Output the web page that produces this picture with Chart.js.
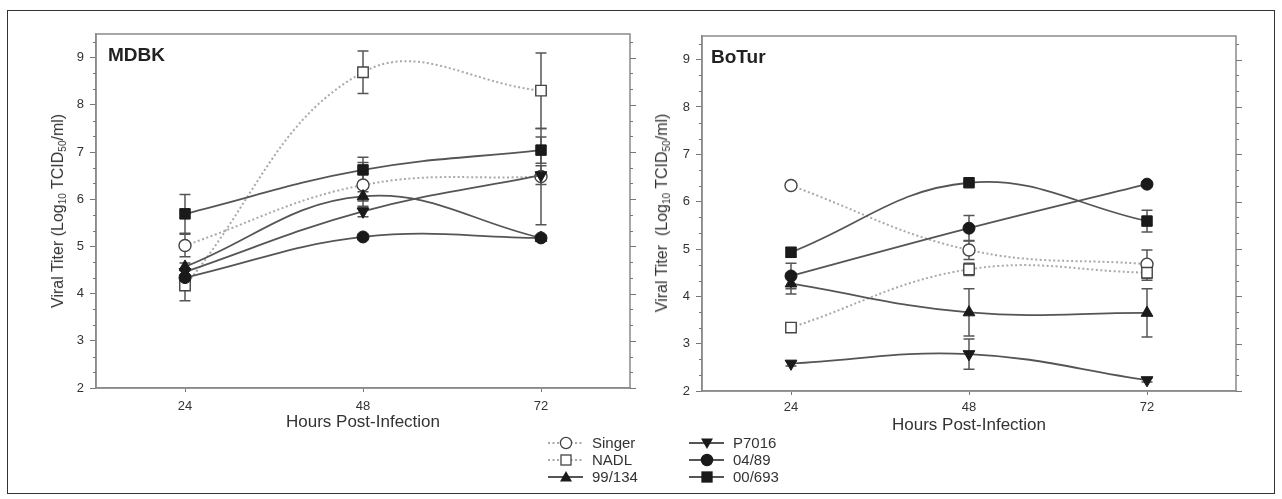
<!DOCTYPE html>
<html><head><meta charset="utf-8">
<script src="https://cdn.jsdelivr.net/npm/chart.js@4.4.0/dist/chart.umd.min.js"></script>
<style>
html,body{margin:0;padding:0;background:#fff;}
body{width:1282px;height:499px;position:relative;overflow:hidden;font-family:"Liberation Sans",Arial,sans-serif;color:#333;}
#frame{position:absolute;left:7px;top:10px;width:1268px;height:484px;border:1.5px solid #333;box-sizing:border-box;}
canvas{position:absolute;top:0;}
.ytitle{position:absolute;transform:translate(-50%,-50%) rotate(-90deg);white-space:nowrap;font-size:16px;color:#333;}
.ytitle sub{font-size:10px;vertical-align:-3px;line-height:0;}
.ptitle{position:absolute;font-weight:bold;font-size:19px;line-height:1;color:#222;}
.lg{position:absolute;height:16px;}
.lg svg{position:absolute;top:0;}
.lg span{position:absolute;top:0;font-size:15px;line-height:16px;color:#333;white-space:nowrap;}
</style></head>
<body>
<div id="frame"></div>
<canvas id="c1" width="640" height="440" style="left:0;width:640px;height:440px"></canvas>
<canvas id="c2" width="642" height="440" style="left:640px;width:642px;height:440px"></canvas>
<div class="ytitle" style="left:58px;top:211px">Viral Titer (Log<sub>10</sub> TCID<sub>50</sub>/ml)</div>
<div class="ytitle" style="left:662px;top:213px">Viral Titer&nbsp; (Log<sub>10</sub> TCID<sub>50</sub>/ml)</div>
<div class="ptitle" style="left:108px;top:44.5px">MDBK</div>
<div class="ptitle" style="left:711px;top:46.5px">BoTur</div>
<div id="legend"></div>
<script>
// ---------- DATA ----------
const hours = [24, 48, 72];
const xTickValues = [24, 48, 72];
const yTickValues = [2, 3, 4, 5, 6, 7, 8, 9];
const seriesNames = ['Singer', 'NADL', '99/134', 'P7016', '04/89', '00/693'];

// MDBK cells (log10 TCID50/ml) and error bars
const mdbkSinger = [5.02, 6.30, 6.48];
const mdbkNADL   = [4.17, 8.69, 8.30];
const mdbk99134  = [4.57, 6.06, 5.18];
const mdbkP7016  = [4.46, 5.74, 6.51];
const mdbk0489   = [4.34, 5.20, 5.18];
const mdbk00693  = [5.69, 6.62, 7.04];
const mdbkSingerErr = [0.24, 0.48, 1.02];
const mdbkNADLErr   = [0.32, 0.45, 0.80];
const mdbk99134Err  = [0.08, 0.10, 0.05];
const mdbkP7016Err  = [0.06, 0.11, 0.20];
const mdbk0489Err   = [0.06, 0.06, 0.05];
const mdbk00693Err  = [0.41, 0.27, 0.28];

// BoTur cells
const boturSinger = [6.34, 4.98, 4.68];
const boturNADL   = [3.34, 4.57, 4.50];
const botur99134  = [4.27, 3.66, 3.65];
const boturP7016  = [2.58, 2.78, 2.23];
const botur0489   = [4.43, 5.44, 6.37];
const botur00693  = [4.93, 6.40, 5.59];
const boturSingerErr = [0.05, 0.20, 0.30];
const boturNADLErr   = [0.05, 0.13, 0.16];
const botur99134Err  = [0.22, 0.50, 0.51];
const boturP7016Err  = [0.05, 0.32, 0.04];
const botur0489Err   = [0.27, 0.27, 0.05];
const botur00693Err  = [0.10, 0.04, 0.23];

// ---------- STYLES ----------
const DOT = '#a9a9a9', LINE = '#555', FILL = '#1a1a1a', OPEN = '#444';
const styles = [
  {pointStyle:'circle',   rot:0,   r:6.0, filled:false, dotted:true},
  {pointStyle:'rect',     rot:0,   r:7.4, filled:false, dotted:true},
  {pointStyle:'triangle', rot:0,   r:6.8, filled:true,  dotted:false},
  {pointStyle:'triangle', rot:180, r:6.8, filled:true,  dotted:false},
  {pointStyle:'circle',   rot:0,   r:6.0, filled:true,  dotted:false},
  {pointStyle:'rect',     rot:0,   r:7.4, filled:true,  dotted:false}
];

function makeDatasets(vals, errs){
  return vals.map((v, k) => {
    const s = styles[k];
    return {
      label: seriesNames[k],
      data: hours.map((h, i) => ({x: h, y: v[i]})),
      errors: errs[k],
      order: -k,
      borderColor: s.dotted ? DOT : LINE,
      borderWidth: s.dotted ? 2 : 1.8,
      borderDash: s.dotted ? [2, 2.5] : [],
      tension: 0.4,
      fill: false,
      pointStyle: s.pointStyle,
      pointRotation: s.rot,
      pointRadius: s.r,
      pointHoverRadius: s.r,
      pointBackgroundColor: s.filled ? FILL : '#ffffff',
      pointBorderColor: s.filled ? FILL : OPEN,
      pointBorderWidth: s.filled ? 1 : 1.4
    };
  });
}

const decor = {
  id: 'decor',
  beforeDatasetsDraw(chart){
    const {ctx, scales:{x, y}} = chart;
    ctx.save();
    ctx.strokeStyle = '#555';
    ctx.lineWidth = 1.5;
    chart.data.datasets.forEach(ds => {
      ds.errors.forEach((e, i) => {
        if (!e) return;
        const px = x.getPixelForValue(ds.data[i].x);
        const v = ds.data[i].y;
        const y1 = y.getPixelForValue(v + e), y2 = y.getPixelForValue(v - e);
        ctx.beginPath();
        ctx.moveTo(px, y1); ctx.lineTo(px, y2);
        ctx.moveTo(px - 5.5, y1); ctx.lineTo(px + 5.5, y1);
        ctx.moveTo(px - 5.5, y2); ctx.lineTo(px + 5.5, y2);
        ctx.stroke();
      });
    });
    ctx.restore();
  },
  afterDraw(chart){
    const {ctx, chartArea:a, scales:{y}} = chart;
    ctx.save();
    ctx.strokeStyle = '#8a8a8a';
    ctx.lineWidth = 1.5;
    ctx.strokeRect(a.left, a.top, a.right - a.left, a.bottom - a.top);
    ctx.lineWidth = 1;
    ctx.strokeStyle = '#777';
    const lo = y.min, hi = y.max;
    for (let n = 0; ; n++) {
      const v = lo + n / 3;
      if (v > hi + 1e-6) break;
      const py = Math.round(y.getPixelForValue(v)) + 0.5;
      const major = n % 3 === 0;
      ctx.beginPath();
      if (!major) { ctx.moveTo(a.left, py); ctx.lineTo(a.left - 3, py); }
      ctx.moveTo(a.right, py); ctx.lineTo(a.right + (major ? 6 : 3), py);
      ctx.stroke();
    }
    ctx.restore();
  }
};

function makeChart(id, vals, errs, geo){
  new Chart(document.getElementById(id), {
    type: 'line',
    data: {datasets: makeDatasets(vals, errs)},
    plugins: [decor],
    options: {
      responsive: false,
      animation: false,
      devicePixelRatio: 1,
      layout: {padding: {top: geo.top, right: geo.right, left: 0, bottom: 0}},
      plugins: {legend: {display: false}, tooltip: {enabled: false}},
      scales: {
        x: {
          type: 'linear', min: 12, max: 84,
          afterBuildTicks: s => { s.ticks = xTickValues.map(v => ({value: v})); },
          afterFit: s => { s.height = geo.xh; },
          grid: {drawOnChartArea: false, drawTicks: true, tickLength: 4, tickColor: '#777'},
          border: {display: true, color: '#8a8a8a', width: 1.5},
          ticks: {font: {size: 13}, color: '#333', padding: geo.xpad, maxRotation: 0},
          title: {display: true, text: 'Hours Post-Infection', font: {size: 17}, color: '#333',
                  padding: {top: 0, bottom: geo.tpad}}
        },
        y: {
          type: 'linear', min: 2, max: 9.5,
          afterBuildTicks: s => { s.ticks = yTickValues.map(v => ({value: v})); },
          afterFit: s => { s.width = geo.yw; },
          grid: {drawOnChartArea: false, drawTicks: true, tickLength: 6, tickColor: '#777'},
          border: {display: true, color: '#8a8a8a', width: 1.5},
          ticks: {font: {size: 13}, color: '#333', padding: 6}
        }
      }
    }
  });
}

Chart.defaults.font.family = '"Liberation Sans", Arial, sans-serif';

makeChart('c1',
  [mdbkSinger, mdbkNADL, mdbk99134, mdbkP7016, mdbk0489, mdbk00693],
  [mdbkSingerErr, mdbkNADLErr, mdbk99134Err, mdbkP7016Err, mdbk0489Err, mdbk00693Err],
  {top: 34, right: 10, yw: 96, xh: 52, xpad: 7, tpad: 7});
makeChart('c2',
  [boturSinger, boturNADL, botur99134, boturP7016, botur0489, botur00693],
  [boturSingerErr, boturNADLErr, botur99134Err, boturP7016Err, botur0489Err, botur00693Err],
  {top: 36, right: 46, yw: 62, xh: 49, xpad: 4.5, tpad: 4});

// ---------- LEGEND ----------
function symbolSvg(k, left){
  const s = styles[k];
  const line = s.dotted
    ? `<line x1="2" y1="8" x2="37" y2="8" stroke="${DOT}" stroke-width="2" stroke-dasharray="2 2.5"/>`
    : `<line x1="2" y1="8" x2="37" y2="8" stroke="${LINE}" stroke-width="1.8"/>`;
  const fill = s.filled ? FILL : '#fff', stroke = s.filled ? FILL : OPEN;
  let m = '';
  if (s.pointStyle === 'circle') m = `<circle cx="20" cy="8" r="5.6" fill="${fill}" stroke="${stroke}" stroke-width="1.3"/>`;
  else if (s.pointStyle === 'rect') m = `<rect x="15" y="3" width="10" height="10" fill="${fill}" stroke="${stroke}" stroke-width="1.3"/>`;
  else if (s.rot === 0) m = `<polygon points="20,2 26,12.5 14,12.5" fill="${fill}"/>`;
  else m = `<polygon points="14,3.5 26,3.5 20,14" fill="${fill}"/>`;
  return `<svg style="left:${left}px" width="40" height="16" viewBox="0 0 40 16">${line}${m}</svg>`;
}
const rowsY = [442.5, 459.5, 476.5];
const cols = [{svgLeft: 546, textLeft: 592}, {svgLeft: 687, textLeft: 733}];
let html = '';
seriesNames.forEach((name, k) => {
  const c = cols[Math.floor(k / 3)], cy = rowsY[k % 3];
  html += `<div class="lg" style="left:0;top:${cy - 8}px">${symbolSvg(k, c.svgLeft)}<span style="left:${c.textLeft}px">${name}</span></div>`;
});
document.getElementById('legend').innerHTML = html;
</script>
</body></html>
